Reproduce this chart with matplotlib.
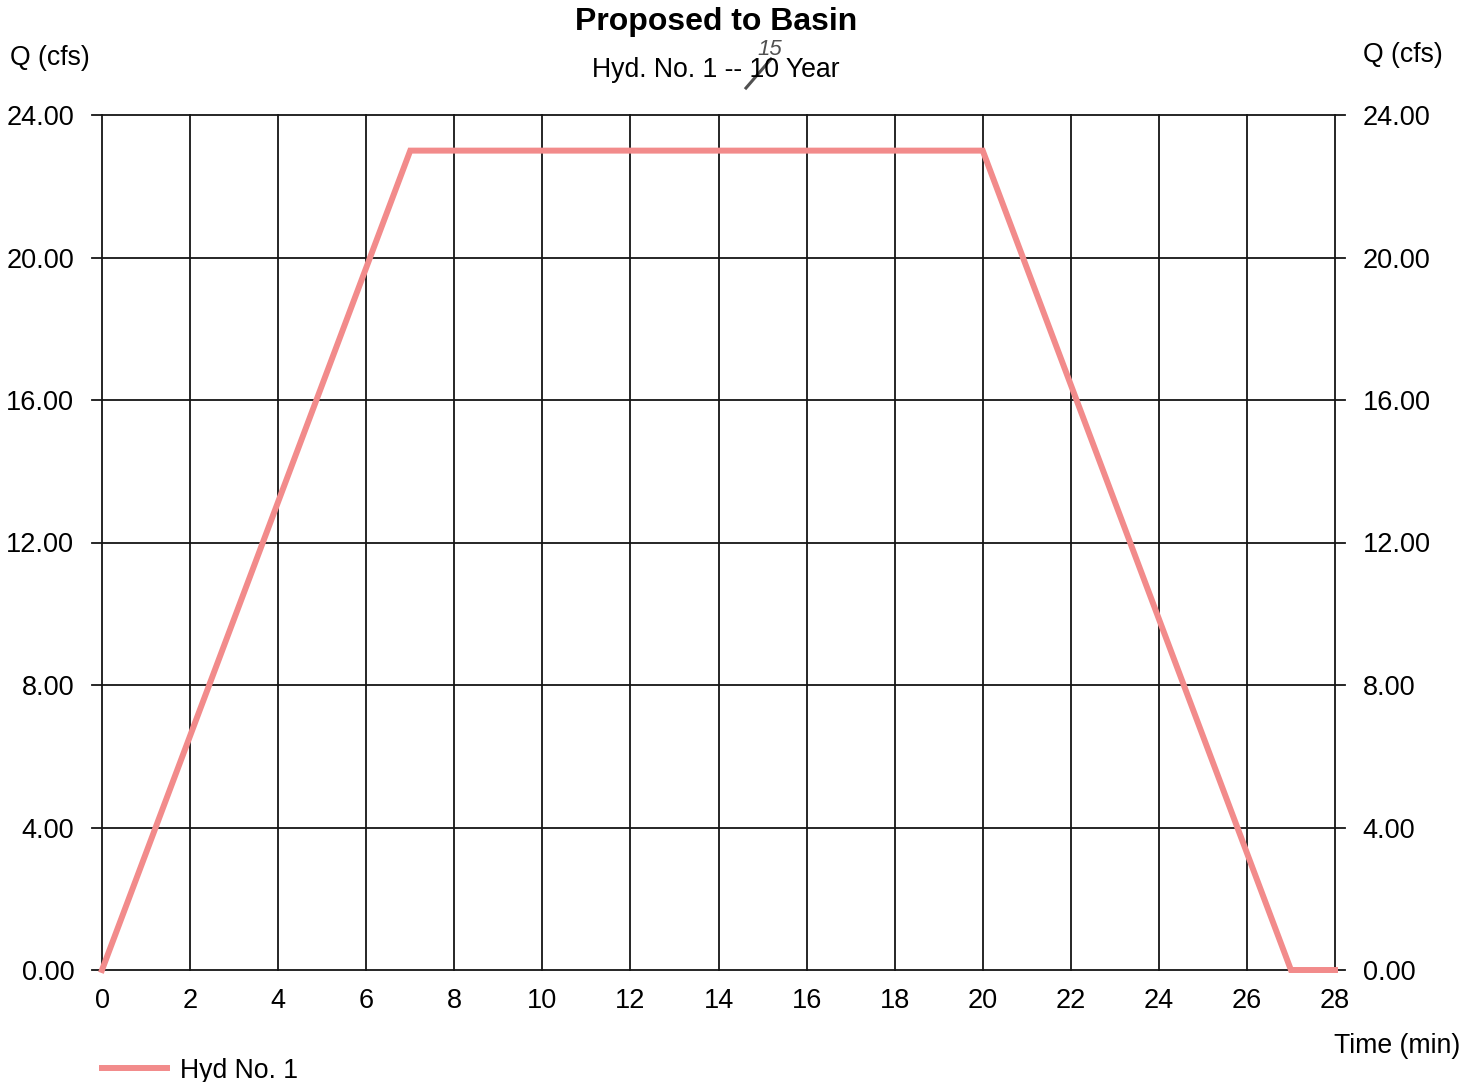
import matplotlib.pyplot as plt
import matplotlib.lines as mlines

plt.rcParams['font.family'] = ['Liberation Sans', 'DejaVu Sans']

# hydrograph points
time_min = [0, 7, 20, 27, 28]
flow_cfs = [0.0, 23.0, 23.0, 0.0, 0.0]

x_ticks = list(range(0, 29, 2))
y_ticks = [0, 4, 8, 12, 16, 20, 24]
y_labels = ['%.2f' % v for v in y_ticks]

fig = plt.figure(figsize=(14.79, 10.82), dpi=100)
ax = fig.add_axes([102 / 1479, 1 - 970 / 1082, (1335 - 102) / 1479, (970 - 115) / 1082])

ax.set_xlim(0, 28)
ax.set_ylim(0, 24)
for s in ax.spines.values():
    s.set_visible(False)

# grid lines, horizontal ones run a bit past both sides
for x in x_ticks:
    ax.plot([x, x], [0, 24], color='#151515', lw=1.3, zorder=1, clip_on=False)
for y in y_ticks:
    ax.plot([-0.23, 28.23], [y, y], color='#151515', lw=1.3, zorder=1, clip_on=False)

ax.plot(time_min, flow_cfs, color='#f28b8b', lw=4.3, zorder=3,
        solid_joinstyle='miter', clip_on=False)

ax.set_xticks(x_ticks)
ax.set_xticklabels([str(x) for x in x_ticks])
ax.set_yticks(y_ticks)
ax.set_yticklabels(y_labels)
ax.tick_params(axis='x', length=0, pad=13, labelsize=19.5)
ax.tick_params(axis='y', length=0, pad=20, labelsize=19.5,
               labelleft=True, labelright=True)

fig.text(716 / 1479, 1 - 30 / 1082, 'Proposed to Basin', ha='center',
         va='baseline', fontsize=23, fontweight='bold')
fig.text(716 / 1479, 1 - 77 / 1082, 'Hyd. No. 1 -- 10 Year', ha='center',
         va='baseline', fontsize=19.2)

# handwritten correction over the return period
fig.text(770 / 1479, 1 - 55 / 1082, '15', ha='center', va='baseline',
         fontsize=16, style='italic', color='#505050')
fig.add_artist(mlines.Line2D([746 / 1479, 771 / 1479], [1 - 88 / 1082, 1 - 59 / 1082],
                             color='#505050', lw=2.2))

fig.text(10 / 1479, 1 - 65 / 1082, 'Q (cfs)', ha='left', va='baseline', fontsize=19.2)
fig.text(1363 / 1479, 1 - 62 / 1082, 'Q (cfs)', ha='left', va='baseline', fontsize=19.2)
fig.text(1460 / 1479, 1 - 1053 / 1082, 'Time (min)', ha='right', va='baseline', fontsize=19.2)

# legend
fig.add_artist(mlines.Line2D([102 / 1479, 167 / 1479], [1 - 1068 / 1082, 1 - 1068 / 1082],
                             color='#f28b8b', lw=4.3))
fig.text(180 / 1479, 1 - 1078 / 1082, 'Hyd No. 1', ha='left', va='baseline', fontsize=19.2)

fig.savefig('out.png', dpi=100)
